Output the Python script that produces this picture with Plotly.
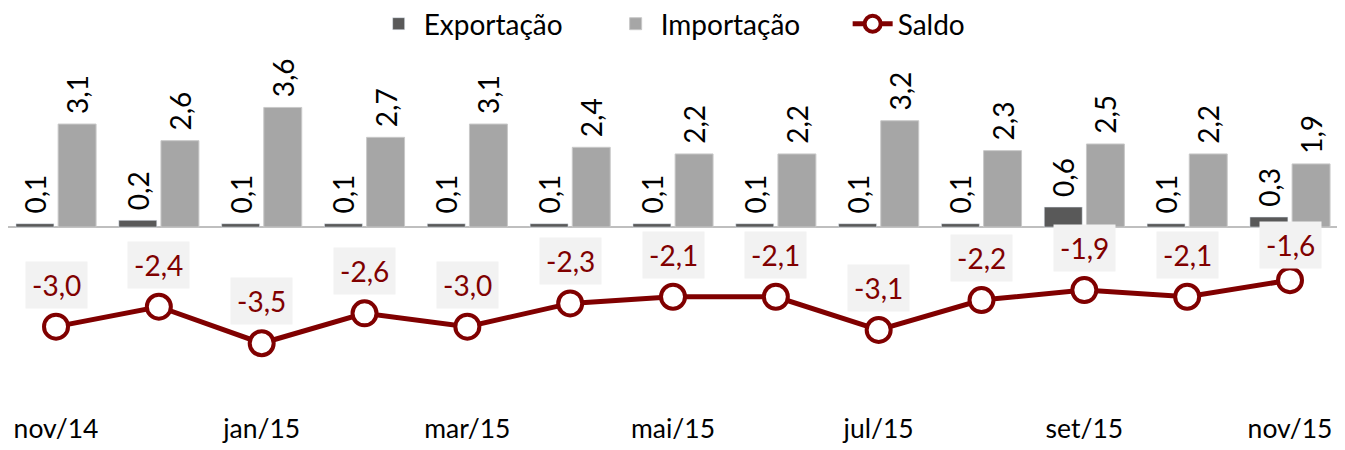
import plotly.graph_objects as go

months = ["nov/14", "dez/14", "jan/15", "fev/15", "mar/15", "abr/15", "mai/15",
          "jun/15", "jul/15", "ago/15", "set/15", "out/15", "nov/15"]
exportacao = [0.1, 0.2, 0.1, 0.1, 0.1, 0.1, 0.1, 0.1, 0.1, 0.1, 0.6, 0.1, 0.3]
importacao = [3.1, 2.6, 3.6, 2.7, 3.1, 2.4, 2.2, 2.2, 3.2, 2.3, 2.5, 2.2, 1.9]
saldo = [-3.0, -2.4, -3.5, -2.6, -3.0, -2.3, -2.1, -2.1, -3.1, -2.2, -1.9, -2.1, -1.6]
tick_labels = months[::2]

FONT = "Lato"
RED = "#800000"


def fmt(v):
    return f"{v:.1f}".replace(".", ",")


# the page body adds an 8px offset, so the figure is sized to fill the rest of the window
W, H = 1337, 442
M_L, M_R, M_T, M_B = 0, 4, 42, 40
Y_MIN, Y_MAX = -5.51, 5.33
PLOT_H = H - M_T - M_B
PX_PER_UNIT = PLOT_H / (Y_MAX - Y_MIN)
X_RANGE = [-0.467, 12.496]

fig = go.Figure()
fig.add_trace(go.Bar(
    x=months, y=exportacao, name="Exportação",
    marker=dict(color="#595959"),
    text=["\u00a0" + fmt(v) for v in exportacao], textposition="outside", textangle=-90,
    constraintext="none", cliponaxis=False,
    textfont=dict(family=FONT, size=28, color="#000000"),
))
fig.add_trace(go.Bar(
    x=months, y=importacao, name="Importação",
    marker=dict(color="#a6a6a6", line=dict(color="#c8c8c8", width=1)),
    text=["\u00a0" + fmt(v) for v in importacao], textposition="outside", textangle=-90,
    constraintext="none", cliponaxis=False,
    textfont=dict(family=FONT, size=28, color="#000000"),
))
fig.add_trace(go.Scatter(
    x=months, y=saldo, name="Saldo", mode="lines+markers",
    line=dict(color=RED, width=5),
    marker=dict(symbol="circle", size=24, color="white", line=dict(color=RED, width=4)),
    cliponaxis=False,
))

annotations = []
for m, v in zip(months, saldo):
    shift = min(42, abs(v) * PX_PER_UNIT - 18)
    annotations.append(dict(
        x=m, y=v, text=fmt(v), showarrow=False, yshift=shift,
        bgcolor="#f2f2f2", borderpad=6,
        font=dict(family=FONT, size=28, color=RED),
    ))

fig.update_layout(
    width=W, height=H,
    margin=dict(l=M_L, r=M_R, t=M_T, b=M_B, autoexpand=False),
    paper_bgcolor="white", plot_bgcolor="white",
    barmode="group", bargap=0.18, bargroupgap=0.1,
    font=dict(family=FONT, size=28, color="#000000"),
    legend=dict(orientation="h", x=0.541, xanchor="center", y=1 + (M_T + 9) / PLOT_H, yanchor="top",
                font=dict(family=FONT, size=28, color="#000000"),
                itemwidth=40, entrywidth=182, bgcolor="rgba(0,0,0,0)"),
    annotations=annotations,
    xaxis=dict(type="category", range=X_RANGE,
               tickvals=tick_labels, ticktext=tick_labels,
               showgrid=False, showline=False, ticks="",
               tickfont=dict(family=FONT, size=26.5, color="#000000")),
    yaxis=dict(range=[Y_MIN, Y_MAX], showgrid=False, showticklabels=False, ticks="",
               zeroline=True, zerolinecolor="#bfbfbf", zerolinewidth=2, showline=False),
)

fig.write_html("out.html")
